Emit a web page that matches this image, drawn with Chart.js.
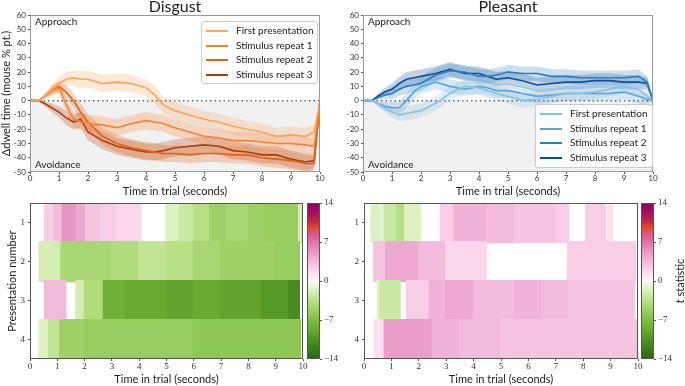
<!DOCTYPE html>
<html lang="en">
<head>
<meta charset="UTF-8">
<title>Dwell time: Disgust vs Pleasant</title>
<script src="https://cdn.jsdelivr.net/npm/chart.js"></script>
<style>
  body { margin: 0; background: #fff; width: 685px; height: 386px; position: relative; overflow: hidden; font-family: Lato, sans-serif; }
  canvas { position: absolute; }
  .legend { position: absolute; border: 1px solid #ccc; border-radius: 3px; background: rgba(255,255,255,0.85); font-size: 10px; color: #222; box-sizing: border-box; padding: 1px 4px; }
  .legend div { height: 14.5px; line-height: 14.5px; white-space: nowrap; }
  .legend .sw { display: inline-block; width: 22px; height: 2px; vertical-align: middle; margin-right: 8px; }
</style>
</head>
<body>
<canvas id="lineD" width="340" height="198" style="left:0;top:0"></canvas>
<canvas id="lineP" width="345" height="198" style="left:340px;top:0"></canvas>
<canvas id="heatD" width="308" height="191" style="left:0;top:195px"></canvas>
<canvas id="heatP" width="303" height="191" style="left:340px;top:195px"></canvas>
<canvas id="cbarD" width="45" height="191" style="left:300px;top:195px"></canvas>
<canvas id="cbarP" width="51" height="191" style="left:634px;top:195px"></canvas>
<div class="legend" id="legD" style="left:201px;top:21px;width:117px;height:63px"></div>
<div class="legend" id="legP" style="left:535px;top:104px;width:118px;height:64px"></div>

<script>
// ---- data ----
const seriesNames = ['First presentation', 'Stimulus repeat 1', 'Stimulus repeat 2', 'Stimulus repeat 3'];
const T = [0, 0.3, 0.5, 0.75, 1.0, 1.25, 1.5, 1.75, 2.0, 2.5, 3.0, 3.5, 4.0, 4.3, 4.6, 5.0, 5.5, 6.0, 6.5, 7.0, 7.5, 8.0, 8.5, 9.0, 9.5, 9.8, 10];

const disgustFirst = [0, 0, 3, 8, 12, 15, 16, 15, 15, 12, 13, 12, 9, 4, -3, -7, -10, -13, -15, -18, -20, -22, -25, -24, -25, -22, 0];
const disgustRep1  = [0, 0, 3, 7, 9, -3, -13, -15, -16, -17, -19, -16, -14, -15, -16, -19, -22, -25, -26, -28, -28, -29, -30, -30, -31, -32, 0];
const disgustRep2  = [0, 0, 3, 7, 10, 6, 0, -8, -15, -25, -30, -33, -35, -36, -37, -37, -38, -37, -37, -38, -38, -40, -41, -42, -44, -44, 0];
const disgustRep3  = [0, 0, -2, -5, -8, -12, -15, -13, -22, -28, -32, -34, -36, -36, -35, -33, -32, -31, -32, -35, -36, -38, -38, -41, -43, -42, 0];
const disgustSem   = [0, 0, 1.5, 3, 4, 5, 5, 6, 6, 6, 6, 6, 6, 6, 6, 6, 6, 6, 6, 6, 6, 6, 6, 6, 6, 5, 0];

const pleasantFirst = [0, 0, -2, -5, -8, -10, -9, -8, -7, -2, 5, 10, 9, 7, 5, 3, 0, 1, 3, 5, 5, 6, 8, 10, 8, 3, 0];
const pleasantRep1  = [0, 0, -2, -4, -5, -5, 0, 6, 10, 13, 10, 8, 10, 9, 7, 7, 5, 3, 4, 5, 5, 5, 5, 6, 3, 1, 0];
const pleasantRep2  = [0, 0, 2, 4, 5, 8, 10, 11, 12, 18, 21, 20, 17, 17, 18, 20, 19, 19, 17, 17, 16, 16, 16, 16, 17, 13, 0];
const pleasantRep3  = [0, 0, 3, 6, 8, 12, 15, 16, 17, 19, 22, 19, 19, 17, 15, 16, 14, 11, 12, 13, 13, 14, 14, 13, 13, 12, 0];
const pleasantSem   = [0, 0, 1.5, 3, 4, 4.5, 5, 5, 5, 5, 5, 5, 5, 5, 5, 5, 5, 5, 5, 5, 5, 5, 5, 5, 5, 4, 0];

const orangeColors = ['#fda35e', '#f8802f', '#e35f14', '#b03a08'];
const blueColors   = ['#8cc0e0', '#5aa3d4', '#2e7ebc', '#0c4f9a'];

// heatmap rows: [start s, end s, t statistic]; gaps are non-significant (white)
const rowLabels = ['1', '2', '3', '4'];
const disgustHeat = [
  [[0.55, 0.9, 2.5], [0.9, 1.2, 3.5], [1.2, 1.7, 5.5], [1.7, 2.05, 4.5], [2.05, 2.6, 3], [2.6, 3.2, 2.5], [3.2, 4.05, 2],
   [5.0, 5.5, -1.5], [5.5, 6.0, -2.5], [6.0, 6.6, -3.5], [6.6, 7.2, -5], [7.2, 8.0, -4.5], [8.0, 8.6, -5], [8.6, 9.85, -5.5], [9.85, 9.95, -2]],
  [[0.35, 0.5, -2], [0.55, 1.15, -2], [1.15, 3.0, -4.5], [3.0, 4.0, -4], [4.0, 5.0, -3], [5.0, 6.0, -3.5], [6.0, 7.0, -4.5], [7.0, 9.0, -5], [9.0, 9.85, -5.5]],
  [[0.55, 1.3, 3.5], [1.7, 2.0, -2], [2.0, 2.7, -4], [2.7, 3.5, -8], [3.5, 5.0, -8.5], [5.0, 6.0, -9], [6.0, 7.0, -8.5], [7.0, 8.5, -9], [8.5, 9.5, -10], [9.5, 9.85, -11]],
  [[0.35, 0.7, -1.5], [0.7, 1.1, -3], [1.1, 2.0, -5], [2.0, 6.0, -5.5], [6.0, 9.9, -6]]
];
const pleasantHeat = [
  [[0.27, 0.6, -1.5], [0.6, 0.75, -0.8], [0.75, 1.2, -2.5], [1.2, 1.5, -3.5], [1.5, 2.05, -1.5],
   [2.8, 3.3, 2.5], [3.3, 4.5, 4], [4.5, 5.5, 3.5], [5.5, 6.95, 3], [7.0, 7.45, 2.5], [8.1, 8.8, 2.5], [8.9, 9.05, 1.5]],
  [[0.37, 0.8, 3], [0.8, 2.0, 4.5], [2.0, 3.0, 3.5], [3.0, 4.45, 2], [7.45, 9.9, 2.5]],
  [[0.5, 0.6, -1.5], [0.6, 1.3, -2.5], [1.57, 2.4, 2.5], [2.4, 3.0, 4], [3.0, 4.0, 4.5], [4.0, 5.5, 3.5], [5.5, 6.5, 4], [6.5, 7.5, 3.5], [7.5, 9.85, 3]],
  [[0.4, 0.75, 1.5], [0.75, 2.5, 5], [2.5, 3.5, 4], [3.5, 5.0, 3.5], [5.0, 7.0, 3], [7.0, 9.95, 3]]
];

// ---- colormap for t ----
const cmapStops = [
  [-14, [39, 100, 25]], [-10.5, [77, 146, 33]], [-7, [127, 188, 65]], [-3.5, [184, 225, 134]], [-1, [230, 245, 208]],
  [0, [247, 247, 252]], [1.5, [252, 224, 239]], [4, [240, 178, 214]], [7, [222, 119, 174]], [8.6, [218, 85, 140]],
  [9.7, [224, 74, 42]], [10.8, [190, 40, 70]], [12.5, [160, 16, 96]], [14, [142, 1, 82]]
];
function tColor(t) {
  if (t <= cmapStops[0][0]) return 'rgb(' + cmapStops[0][1].join(',') + ')';
  for (let i = 1; i < cmapStops.length; i++) {
    const [v1, c1] = cmapStops[i], [v0, c0] = cmapStops[i - 1];
    if (t <= v1) {
      const f = (t - v0) / (v1 - v0);
      return 'rgb(' + c0.map((c, k) => Math.round(c + f * (c1[k] - c))).join(',') + ')';
    }
  }
  return 'rgb(' + cmapStops[cmapStops.length - 1][1].join(',') + ')';
}

Chart.defaults.font.family = 'Lato, sans-serif';
Chart.defaults.color = '#333';
Chart.defaults.animation = false;

// frame, shading, titles, corner texts
const panelPlugin = {
  id: 'panel',
  beforeDatasetsDraw(chart, args, o) {
    if (!o.shade) return;
    const a = chart.chartArea, ctx = chart.ctx;
    const y0 = chart.scales.y.getPixelForValue(0);
    ctx.save();
    ctx.fillStyle = '#f1f1f1';
    ctx.fillRect(a.left, y0, a.right - a.left, a.bottom - y0);
    ctx.restore();
  },
  afterDraw(chart, args, o) {
    const a = chart.chartArea, ctx = chart.ctx;
    ctx.save();
    ctx.strokeStyle = o.frame || '#888';
    ctx.lineWidth = 1;
    ctx.strokeRect(Math.round(a.left) + 0.5, Math.round(a.top) + 0.5, Math.round(a.right - a.left) - 1, Math.round(a.bottom - a.top) - 1);
    ctx.fillStyle = '#222';
    if (o.title) {
      ctx.font = '16px Lato, sans-serif';
      ctx.textAlign = 'center';
      ctx.textBaseline = 'middle';
      ctx.fillText(o.title, (a.left + a.right) / 2, 7);
    }
    if (o.corner) {
      ctx.font = '10px Lato, sans-serif';
      ctx.textAlign = 'left';
      ctx.textBaseline = 'middle';
      ctx.fillText('Approach', a.left + 5, a.top + 7);
      ctx.fillText('Avoidance', a.left + 5, a.bottom - 7);
    }
    if (o.sideTitle) {
      ctx.translate(chart.width - 5, (a.top + a.bottom) / 2);
      ctx.rotate(-Math.PI / 2);
      ctx.font = '11px Lato, sans-serif';
      ctx.textBaseline = 'middle';
      const w1 = ctx.measureText('t ').width, full = w1 + ctx.measureText('statistic').width;
      ctx.textAlign = 'left';
      ctx.font = 'italic 11px Lato, sans-serif';
      ctx.fillText('t', -full / 2, 0);
      ctx.font = '11px Lato, sans-serif';
      ctx.fillText('statistic', -full / 2 + w1, 0);
    }
    ctx.restore();
  }
};

const tickGrid = { drawOnChartArea: false, tickLength: 2, color: '#555' };

function linePanel(id, series, colors, sem, yw, padRight, title) {
  const datasets = [];
  series.forEach((vals, i) => {
    const col = colors[i];
    datasets.push({ data: T.map((t, k) => ({ x: t, y: vals[k] - sem[k] })), borderWidth: 0, pointRadius: 0, fill: false, order: 10 });
    datasets.push({ data: T.map((t, k) => ({ x: t, y: vals[k] + sem[k] })), borderWidth: 0, pointRadius: 0,
      fill: '-1', backgroundColor: col + '40', order: 10 });
  });
  datasets.push({ data: [{ x: 0, y: 0 }, { x: 10, y: 0 }], borderColor: '#666', borderWidth: 1.5, borderDash: [1.5, 3], pointRadius: 0, order: 5 });
  series.forEach((vals, i) => {
    datasets.push({ label: seriesNames[i], data: T.map((t, k) => ({ x: t, y: vals[k] })), borderColor: colors[i],
      borderWidth: 1.6, pointRadius: 0, fill: false, order: 1 });
  });
  return new Chart(document.getElementById(id), {
    type: 'line',
    data: { datasets },
    plugins: [panelPlugin],
    options: {
      responsive: false,
      layout: { padding: { left: 0, top: 15, right: padRight, bottom: 0 } },
      plugins: { legend: { display: false }, tooltip: { enabled: false },
        panel: { shade: true, corner: true, title: title, frame: '#999' } },
      scales: {
        x: { type: 'linear', min: 0, max: 10, grid: tickGrid, border: { display: false },
          ticks: { stepSize: 1, padding: 0, font: { size: 8 } },
          title: { display: true, text: 'Time in trial (seconds)', font: { size: 11 }, padding: 0, color: '#222' },
          afterFit: s => { s.height = 26; } },
        y: { min: -50, max: 60, grid: tickGrid, border: { display: false },
          ticks: { stepSize: 10, padding: 2, font: { size: 8 } },
          title: { display: id === 'lineD', text: '\u0394dwell time (mouse % pt.)', font: { size: 11 }, padding: 0, color: '#222' },
          afterFit: s => { s.width = yw; } }
      }
    }
  });
}

function heatPanel(id, rows, padLeft, yw, showTitle) {
  const pts = [];
  rows.forEach((segs, r) => segs.forEach(s => pts.push({ y: rowLabels[r], x: [s[0], s[1]], t: s[2] })));
  return new Chart(document.getElementById(id), {
    type: 'bar',
    data: { labels: rowLabels, datasets: [{ data: pts,
      backgroundColor: c => (c.raw ? tColor(c.raw.t) : '#fff'),
      borderColor: c => (c.raw ? tColor(c.raw.t) : '#fff'),
      borderWidth: 1, borderSkipped: false, inflateAmount: 1.2, barPercentage: 1, categoryPercentage: 1 }] },
    plugins: [panelPlugin],
    options: {
      responsive: false,
      indexAxis: 'y',
      layout: { padding: { left: padLeft, top: 8, right: 5, bottom: 0 } },
      plugins: { legend: { display: false }, tooltip: { enabled: false }, panel: { frame: '#555' } },
      scales: {
        x: { type: 'linear', min: 0, max: 10, grid: tickGrid, border: { display: false },
          ticks: { stepSize: 1, padding: 0, font: { family: 'Liberation Serif, serif', size: 9 } },
          title: { display: true, text: 'Time in trial (seconds)', font: { size: 11 }, padding: 0, color: '#222' },
          afterFit: s => { s.height = 27; } },
        y: { type: 'category', grid: Object.assign({ offset: false }, tickGrid), border: { display: false },
          ticks: { padding: 3, font: { family: 'Liberation Serif, serif', size: 9 } },
          title: { display: showTitle, text: 'Presentation number', font: { size: 11 }, padding: 0, color: '#222' },
          afterFit: s => { s.width = yw; } }
      }
    }
  });
}

function colorbar(id, axisW, sideTitle) {
  const pts = [];
  for (let v = -14; v < 14; v += 0.25) pts.push({ x: 'c', y: [v, v + 0.25] });
  return new Chart(document.getElementById(id), {
    type: 'bar',
    data: { labels: ['c'], datasets: [{ data: pts, backgroundColor: c => (c.raw ? tColor((c.raw.y[0] + c.raw.y[1]) / 2) : '#fff'),
      borderWidth: 0, inflateAmount: 0.5, barPercentage: 1, categoryPercentage: 1 }] },
    plugins: [panelPlugin],
    options: {
      responsive: false,
      layout: { padding: { left: 7, top: 8, right: 0, bottom: 27 } },
      plugins: { legend: { display: false }, tooltip: { enabled: false }, panel: { frame: '#555', sideTitle: sideTitle } },
      scales: {
        x: { display: false },
        y: { position: 'right', min: -14, max: 14, grid: tickGrid, border: { display: false },
          ticks: { stepSize: 7, padding: 2, font: { family: 'Liberation Serif, serif', size: 9 },
            callback: v => String(v).replace('-', '\u2212') },
          afterFit: s => { s.width = axisW; } }
      }
    }
  });
}

function buildLegend(id, colors) {
  const el = document.getElementById(id);
  seriesNames.forEach((name, i) => {
    const row = document.createElement('div');
    row.innerHTML = '<span class="sw" style="background:' + colors[i] + '"></span>' + name;
    el.appendChild(row);
  });
}

linePanel('lineD', [disgustFirst, disgustRep1, disgustRep2, disgustRep3], orangeColors, disgustSem, 30, 20, 'Disgust');
linePanel('lineP', [pleasantFirst, pleasantRep1, pleasantRep2, pleasantRep3], blueColors, pleasantSem, 23, 32, 'Pleasant');
heatPanel('heatD', disgustHeat, 6, 24, true);
heatPanel('heatP', pleasantHeat, 0, 24, false);
colorbar('cbarD', 25, false);
colorbar('cbarP', 31, true);
buildLegend('legD', orangeColors);
buildLegend('legP', blueColors);
</script>
</body>
</html>
